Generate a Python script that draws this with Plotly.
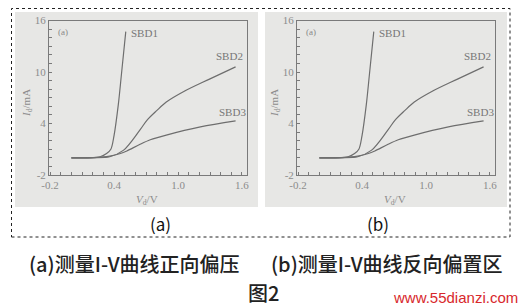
import plotly.graph_objects as go

# Data (V in volts, I in mA)
sbd1_v = [0.0, 0.175, 0.27, 0.33, 0.37, 0.40, 0.44, 0.47, 0.51]
sbd1_i = [0.0, 0.0, 0.13, 0.5, 1.0, 2.6, 6.2, 9.8, 14.7]
sbd2_v = [0.0, 0.2, 0.36, 0.49, 0.64, 0.71, 0.80, 0.89, 1.05, 1.30, 1.54]
sbd2_i = [0.0, 0.02, 0.13, 0.9, 3.2, 4.4, 5.5, 6.5, 7.7, 9.2, 10.6]
sbd3_v = [0.0, 0.2, 0.36, 0.46, 0.52, 0.64, 0.74, 0.89, 1.21, 1.54]
sbd3_i = [0.0, 0.02, 0.2, 0.5, 0.8, 1.55, 2.1, 2.65, 3.6, 4.3]
series_names = ["SBD1", "SBD2", "SBD3"]
x_ticks = [-0.2, 0.4, 1.0, 1.6]
y_ticks = [-2, 4, 10, 16]
panel_labels = ["(a)", "(b)"]
caption_a = "(a)测量I-V曲线正向偏压"
caption_b = "(b)测量I-V曲线反向偏置区"
fig_title = "图2"
watermark = "www.55dianzi.com"

W, H = 525, 308
def px(x):
    return x / W
def py(y):
    return 1 - y / H

LINE = "#6e6e6e"
TXT = "#8c8c8c"
BG = "#e7e7e5"
serif = "Liberation Serif"
cjk = "Noto Sans CJK SC"

fig = go.Figure()
series = [(sbd1_v, sbd1_i), (sbd2_v, sbd2_i), (sbd3_v, sbd3_i)]
panels = [("x", "y", 49, 247), ("x2", "y2", 297, 495)]
for xa, ya, l, r in panels:
    for (v, i), n in zip(series, series_names):
        fig.add_trace(go.Scatter(x=v, y=i, mode="lines", name=n, xaxis=xa, yaxis=ya,
                                 line=dict(color=LINE, width=1.2, shape="spline", smoothing=0.9),
                                 showlegend=False, hoverinfo="skip"))

axis_common = dict(showgrid=False, zeroline=False, showline=True, mirror=True, automargin=False,
                   linecolor="#7a7a7a", linewidth=1, ticks="inside", ticklen=3,
                   tickcolor="#7a7a7a", tickfont=dict(family=serif, size=11, color=TXT))
xr = [-0.21, 1.647]
yr = [-2, 16]
ydom = [py(175), py(20.5)]
layout = dict(width=W, height=H, margin=dict(l=0, r=0, t=0, b=0, pad=0, autoexpand=False),
              paper_bgcolor="white", plot_bgcolor="rgba(0,0,0,0)", showlegend=False)
for k, (xa, ya, l, r) in enumerate(panels):
    sfx = "" if k == 0 else "2"
    layout["xaxis" + sfx] = dict(axis_common, domain=[px(l), px(r)], range=xr,
                                 tickvals=x_ticks, ticktext=[f"{t:.1f}" for t in x_ticks],
                                 minor=dict(dtick=0.1, tick0=-0.2, ticks="inside", ticklen=3, tickcolor="#7a7a7a"),
                                 anchor="y" + sfx)
    layout["yaxis" + sfx] = dict(axis_common, domain=ydom, range=yr,
                                 tickvals=y_ticks, ticktext=[str(t) for t in y_ticks],
                                 minor=dict(dtick=1, tick0=-2, ticks="inside", ticklen=3, tickcolor="#7a7a7a"),
                                 anchor="x" + sfx)
fig.update_layout(**layout)

shapes = []
for x0, x1 in [(15, 258), (265, 507)]:
    shapes.append(dict(type="rect", xref="paper", yref="paper", x0=px(x0), x1=px(x1),
                       y0=py(207), y1=py(12), fillcolor=BG, line=dict(width=0), layer="below"))
shapes.append(dict(type="rect", xref="paper", yref="paper", x0=px(11.5), x1=px(510),
                   y0=py(237), y1=py(8.5), line=dict(color="#222", width=1, dash="3px,3px"),
                   fillcolor="rgba(0,0,0,0)"))
fig.update_layout(shapes=shapes)

def txt(x, y, text, size, color, family, xanchor="center", yanchor="middle", angle=0, weight=400):
    return dict(x=px(x), y=py(y), xref="paper", yref="paper", text=text, showarrow=False,
                xanchor=xanchor, yanchor=yanchor, textangle=angle,
                font=dict(family=family, size=size, color=color, weight=weight))

ann = []
for k, off in enumerate([0, 248]):
    xs = "x" if k == 0 else "x2"
    ys = "y" if k == 0 else "y2"
    ann.append(dict(x=sbd1_v[-1], y=sbd1_i[-1], xref=xs, yref=ys, text=series_names[0],
                    showarrow=False, xanchor="left", yanchor="middle", xshift=3, yshift=-1,
                    font=dict(family=serif, size=11, color="#777")))
    ann.append(dict(x=sbd2_v[-1], y=sbd2_i[-1], xref=xs, yref=ys, text=series_names[1],
                    showarrow=False, xanchor="center", yanchor="bottom", xshift=-6, yshift=3,
                    font=dict(family=serif, size=11, color="#777")))
    ann.append(dict(x=sbd3_v[-1], y=sbd3_i[-1], xref=xs, yref=ys, text=series_names[2],
                    showarrow=False, xanchor="center", yanchor="bottom", xshift=-3, yshift=1,
                    font=dict(family=serif, size=11, color="#777")))
    ann.append(txt(63 + off, 32, "(a)", 9, "#888", serif))
    ann.append(txt(27 + off, 103, "<i>I</i><sub>d</sub>/mA", 11, TXT, serif, angle=-90))
    ann.append(txt(147 + off, 200, "<i>V</i><sub>d</sub>/V", 11, TXT, serif))

ann.append(txt(160, 223, panel_labels[0], 17, "#111", cjk))
ann.append(txt(378, 223, panel_labels[1], 17, "#111", cjk))
ann.append(txt(27, 263, caption_a, 20, "#222", cjk, xanchor="left", weight=500))
ann.append(txt(269, 263, caption_b, 20, "#222", cjk, xanchor="left", weight=500))
ann.append(txt(263, 292, fig_title, 20, "#222", cjk, weight=500))
ann.append(txt(455, 297, watermark, 15, "#d8282c", "Liberation Sans"))
fig.update_layout(annotations=ann)

fig.write_html("out.html", post_script="document.body.style.margin='0';")
